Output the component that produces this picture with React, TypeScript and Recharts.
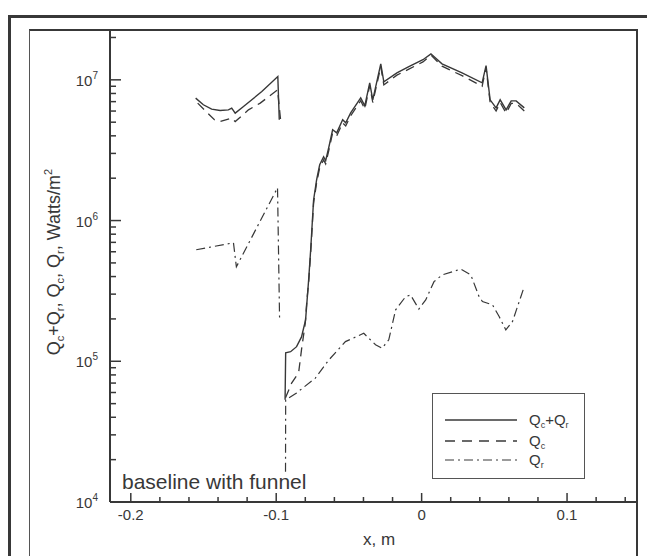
import React from 'react';
import { LineChart, Line, XAxis, YAxis } from 'recharts';

// x positions (m) and heat flux (W/m^2), null = break between segments
const TOTAL_X = [
  -0.1554, -0.1501, -0.1444, -0.1386, -0.1329, -0.1306, -0.1282, -0.1225, -0.1099, -0.0989, -0.0979,
  -0.096,
  -0.0939, -0.0935, -0.0901, -0.086, -0.0826, -0.0798, -0.0777, -0.0763, -0.0743, -0.0722, -0.0701,
  -0.0674, -0.066, -0.0639, -0.0612, -0.0584, -0.0543, -0.0522, -0.0488, -0.0419, -0.0391, -0.0357,
  -0.0336, -0.0281, -0.026, -0.017, -0.0088, 0.0009, 0.0064, 0.014, 0.0278, 0.0416, 0.0443, 0.0471,
  0.0512, 0.054, 0.0581, 0.0616, 0.065, 0.0706,
];
const TOTAL_Y = [
  7.41e6, 6.65e6, 6.19e6, 6.05e6, 6.12e6, 6.29e6, 5.8e6, 6.46e6, 8.26e6, 1.055e7, 5.2e6,
  null,
  5.32e4, 1.15e5, 1.17e5, 1.27e5, 1.49e5, 1.97e5, 3.79e5, 6.2e5, 1.4e6, 1.95e6, 2.49e6,
  2.84e6, 2.66e6, 3.29e6, 4.42e6, 4.2e6, 5.2e6, 4.95e6, 5.82e6, 7.45e6, 6.53e6, 9.52e6,
  7.21e6, 1.3e7, 9.68e6, 1.12e7, 1.24e7, 1.39e7, 1.53e7, 1.3e7, 1.12e7, 9.52e6, 1.26e7, 7.21e6,
  6.32e6, 7.21e6, 6.12e6, 7.09e6, 7.09e6, 6.32e6,
];

const QC_X = [
  -0.154, -0.1494, -0.1425, -0.1386, -0.1306, -0.1282, -0.1191, -0.111, -0.0991, -0.097,
  -0.096,
  -0.0936, -0.0894, -0.0846, -0.0826, -0.08, -0.0789, -0.0777, -0.0763, -0.0743, -0.0722, -0.0701,
  -0.0674, -0.066, -0.0639, -0.0612, -0.0584, -0.0543, -0.0522, -0.0488, -0.0419, -0.0391, -0.0357,
  -0.0336, -0.0281, -0.026, -0.017, -0.0088, 0.0009, 0.0064, 0.014, 0.0278, 0.0416, 0.0443, 0.0471,
  0.0512, 0.054, 0.0581, 0.0616, 0.065, 0.0706,
];
const QC_Y = [
  6.83e6, 6.12e6, 5.2e6, 5.05e6, 5.34e6, 5.05e6, 6.12e6, 6.83e6, 8.49e6, 5.2e6,
  null,
  5.5e4, 7.0e4, 8.27e4, 1.21e5, 1.87e5, 2.73e5, 3.6e5, 5.9e5, 1.33e6, 1.86e6, 2.37e6,
  2.7e6, 2.53e6, 3.13e6, 4.2e6, 4.0e6, 4.95e6, 4.7e6, 5.55e6, 7.1e6, 6.2e6, 9.1e6,
  6.9e6, 1.24e7, 9.2e6, 1.08e7, 1.19e7, 1.34e7, 1.5e7, 1.25e7, 1.07e7, 9.0e6, 1.22e7, 6.9e6,
  6.0e6, 6.9e6, 5.8e6, 6.8e6, 6.8e6, 6.0e6,
];

const QR_X = [
  -0.155, -0.1294, -0.1274, -0.0991, -0.0977,
  -0.096,
  -0.0936, -0.0935, -0.086, -0.0731, -0.0639, -0.0524, -0.0398, -0.0317, -0.0272, -0.0226, -0.0179,
  -0.011, -0.0076, -0.0019, 0.0028, 0.0085, 0.0142, 0.0269, 0.0338, 0.0395, 0.0418, 0.0487, 0.0533,
  0.0579, 0.0625, 0.0706,
];
const QR_Y = [
  6.2e5, 6.95e5, 4.69e5, 1.71e6, 2.03e5,
  null,
  1.64e4, 5.32e4, 5.96e4, 7.59e4, 1.02e5, 1.38e5, 1.58e5, 1.31e5, 1.24e5, 1.42e5, 2.32e5,
  2.88e5, 2.96e5, 2.35e5, 2.73e5, 3.68e5, 4.11e5, 4.52e5, 4.11e5, 2.88e5, 2.66e5, 2.52e5, 2.08e5,
  1.67e5, 1.92e5, 3.4e5,
];

const X_TICKS = [-0.2, -0.18, -0.16, -0.14, -0.12, -0.1, -0.08, -0.06, -0.04, -0.02, 0, 0.02, 0.04, 0.06, 0.08, 0.1, 0.12, 0.14];
const X_MAJOR = [-0.2, -0.1, 0, 0.1];
const X_LABELS = ['-0.2', '-0.1', '0', '0.1'];

const Y_TICKS = [
  1e4, 2e4, 3e4, 4e4, 5e4, 6e4, 7e4, 8e4, 9e4,
  1e5, 2e5, 3e5, 4e5, 5e5, 6e5, 7e5, 8e5, 9e5,
  1e6, 2e6, 3e6, 4e6, 5e6, 6e6, 7e6, 8e6, 9e6,
  1e7, 2e7,
];
const Y_MAJOR = [1e4, 1e5, 1e6, 1e7];
const Y_EXP = ['4', '5', '6', '7'];

const INK = '#383838';
const FONT = '"Liberation Sans", Arial, sans-serif';

const toRows = (xs: number[], ys: (number | null)[]) => xs.map((x, i) => ({ x, y: ys[i] }));

const XTick = ({ x, y, payload }: any) => {
  const idx = X_MAJOR.findIndex(m => Math.abs(m - payload.value) < 1e-6);
  const major = idx >= 0;
  return (
    <g>
      <line x1={x} x2={x} y1={y} y2={y - (major ? 9 : 5)} stroke={INK} strokeWidth={1.5} />
      {major && (
        <text x={x} y={y + 18} textAnchor="middle" fontSize={15} fill={INK} fontFamily={FONT}>
          {X_LABELS[idx]}
        </text>
      )}
    </g>
  );
};

const YTick = ({ x, y, payload }: any) => {
  const idx = Y_MAJOR.findIndex(m => Math.abs(m - payload.value) / m < 1e-6);
  const major = idx >= 0;
  return (
    <g>
      <line x1={x} x2={x + (major ? 11 : 6)} y1={y} y2={y} stroke={INK} strokeWidth={1.5} />
      {major && (
        <text x={x - 12} y={y + 6} textAnchor="end" fontSize={15} fill={INK} fontFamily={FONT}>
          10<tspan dy={-7} fontSize={10}>{Y_EXP[idx]}</tspan>
        </text>
      )}
    </g>
  );
};

export default function App() {
  return (
    <div style={{ position: 'absolute', left: 0, top: 0, width: 647, height: 556, overflow: 'hidden', background: '#fff' }}>
      {/* outer and inner frames */}
      <div style={{ position: 'absolute', left: 8, top: 15, width: 700, height: 700, border: `3px solid ${INK}` }} />
      <div style={{
        position: 'absolute', left: 29, top: 29, width: 606, height: 700,
        borderLeft: '1px solid #555', borderTop: `2px solid ${INK}`, borderRight: `2px solid ${INK}`,
      }} />

      <div style={{ position: 'absolute', left: 0, top: 0 }}>
        <LineChart width={647} height={556} margin={{ top: 30, right: 10, left: 40, bottom: 24 }}>
          <XAxis
            type="number" dataKey="x" domain={[-0.2143, 0.1481]} ticks={X_TICKS} interval={0}
            allowDataOverflow tickSize={0} tickMargin={0} tick={<XTick />} height={30}
            axisLine={{ stroke: INK, strokeWidth: 2 }}
          />
          <YAxis
            type="number" scale="log" domain={[1e4, 2.26e7]} ticks={Y_TICKS} interval={0}
            allowDataOverflow tickSize={0} tickMargin={0} tick={<YTick />} width={70}
            axisLine={{ stroke: INK, strokeWidth: 2 }}
          />
          <Line data={toRows(TOTAL_X, TOTAL_Y)} dataKey="y" type="linear" stroke={INK} strokeWidth={1.4}
            dot={false} connectNulls={false} isAnimationActive={false} />
          <Line data={toRows(QC_X, QC_Y)} dataKey="y" type="linear" stroke={INK} strokeWidth={1.3}
            strokeDasharray="9 6" dot={false} connectNulls={false} isAnimationActive={false} />
          <Line data={toRows(QR_X, QR_Y)} dataKey="y" type="linear" stroke={INK} strokeWidth={1.2}
            strokeDasharray="9 4 2 4" dot={false} connectNulls={false} isAnimationActive={false} />
        </LineChart>
      </div>

      <svg width={647} height={556} style={{ position: 'absolute', left: 0, top: 0, pointerEvents: 'none' }}
        fontFamily={FONT} fill={INK}>
        <text transform="translate(60,262) rotate(-90)" textAnchor="middle" fontSize={18}>
          Q<tspan dy={4} fontSize={11}>c</tspan><tspan dy={-4}>+Q</tspan>
          <tspan dy={4} fontSize={11}>r</tspan><tspan dy={-4}>, Q</tspan>
          <tspan dy={4} fontSize={11}>c</tspan><tspan dy={-4}>, Q</tspan>
          <tspan dy={4} fontSize={11}>r</tspan><tspan dy={-4}>, Watts/m</tspan>
          <tspan dy={-8} fontSize={11}>2</tspan>
        </text>
        <text x={379} y={545} textAnchor="middle" fontSize={17}>x, m</text>
        <text x={122} y={489} fontSize={21}>baseline with funnel</text>

        <rect x={432.5} y={393.5} width={152} height={85} fill="none" stroke="#555" strokeWidth={1} />
        <line x1={445} x2={517} y1={420} y2={420} stroke={INK} strokeWidth={1.4} />
        <line x1={445} x2={517} y1={441} y2={441} stroke={INK} strokeWidth={1.3} strokeDasharray="10 7" />
        <line x1={445} x2={517} y1={460} y2={460} stroke={INK} strokeWidth={1.2} strokeDasharray="9 4 2 4" />
        <text x={529} y={425} fontSize={15}>
          Q<tspan dy={3} fontSize={9}>c</tspan><tspan dy={-3}>+Q</tspan><tspan dy={3} fontSize={9}>r</tspan>
        </text>
        <text x={529} y={446} fontSize={15}>
          Q<tspan dy={3} fontSize={9}>c</tspan>
        </text>
        <text x={529} y={465} fontSize={15}>
          Q<tspan dy={3} fontSize={9}>r</tspan>
        </text>
      </svg>
    </div>
  );
}
